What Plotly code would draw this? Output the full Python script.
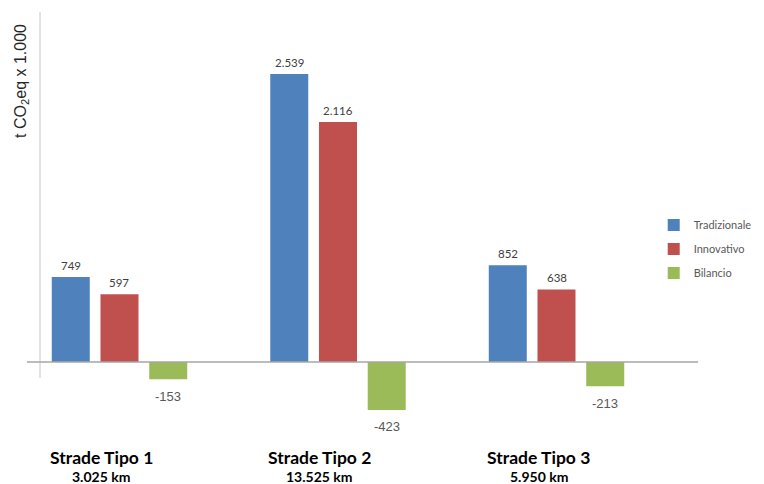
import plotly.graph_objects as go

categories = ["Strade Tipo 1", "Strade Tipo 2", "Strade Tipo 3"]
km_labels = ["3.025 km", "13.525 km", "5.950 km"]
series_names = ["Tradizionale", "Innovativo", "Bilancio"]
tradizionale = [749, 2539, 852]
innovativo = [597, 2116, 638]
bilancio = [-153, -423, -213]
colors = ["#4F81BD", "#C0504D", "#9BBB59"]

def fmt(v):
    return f"{v:,}".replace(",", ".")

xpos = list(range(len(categories)))
series = [tradizionale, innovativo, bilancio]

fig = go.Figure()
for i, (name, vals) in enumerate(zip(series_names, series)):
    fig.add_trace(go.Bar(
        x=xpos, y=vals, name=name, legendgroup=name,
        marker=dict(color=colors[i], line=dict(width=0)),
        hoverinfo="skip",
    ))

annotations = []
slot_px = 48.7
for i, vals in enumerate(series):
    for j, v in enumerate(vals):
        pos = v >= 0
        annotations.append(dict(
            x=xpos[j], y=v, xref="x", yref="y", text=fmt(v), showarrow=False,
            xshift=(i - 1) * slot_px, yshift=12 if pos else -17, yanchor="middle",
            font=dict(family="Lato, sans-serif", size=11.5, color="#404040") if pos
            else dict(family="Liberation Sans, Arial, sans-serif", size=13, color="#595959"),
        ))

for j, (cat, km) in enumerate(zip(categories, km_labels)):
    annotations.append(dict(
        x=xpos[j], y=0, xref="x", yref="paper", text=f"<b>{cat}</b>", showarrow=False,
        xshift=-18, yshift=-17, yanchor="middle",
        font=dict(family="Lato, sans-serif", size=17.5, color="#000000")))
    annotations.append(dict(
        x=xpos[j], y=0, xref="x", yref="paper", text=f"<b>{km}</b>", showarrow=False,
        xshift=-18, yshift=-36, yanchor="middle",
        font=dict(family="Lato, sans-serif", size=14, color="#000000")))

annotations.append(dict(
    x=-0.0075, y=0.839, xref="paper", yref="paper", text="t CO<sub>2</sub>eq x 1.000",
    showarrow=False, textangle=-90, xanchor="center", yanchor="middle",
    font=dict(family="Liberation Sans, Arial, sans-serif", size=16, color="#262626")))

shapes = [
    dict(type="line", xref="paper", yref="y", x0=0.0194, x1=0.0194, y0=-141, y1=3086,
         line=dict(color="#d9d9d9", width=1.5)),
    dict(type="line", xref="paper", yref="y", x0=0, x1=1, y0=0, y1=0,
         line=dict(color="#a6a6a6", width=1.5)),
]

fig.update_layout(
    width=764, height=484,
    margin=dict(l=27, r=66, t=12, b=44, autoexpand=False),
    paper_bgcolor="white", plot_bgcolor="white",
    barmode="group", bargap=0.331, bargroupgap=0.22,
    xaxis=dict(range=[-0.4233, 2.6476], showticklabels=False, showgrid=False,
               zeroline=False, showline=False, ticks=""),
    yaxis=dict(range=[-688, 3086], showticklabels=False, showgrid=False,
               zeroline=False, showline=False, ticks=""),
    legend=dict(x=0.934, y=0.536, xanchor="left", yanchor="top",
                font=dict(family="Lato, sans-serif", size=11, color="#595959"),
                traceorder="grouped", tracegroupgap=5, itemwidth=30,
                bgcolor="rgba(0,0,0,0)"),
    annotations=annotations, shapes=shapes,
    showlegend=True,
)

fig.write_html("out.html", config={"displayModeBar": False},
               post_script="document.body.style.margin='0';")
